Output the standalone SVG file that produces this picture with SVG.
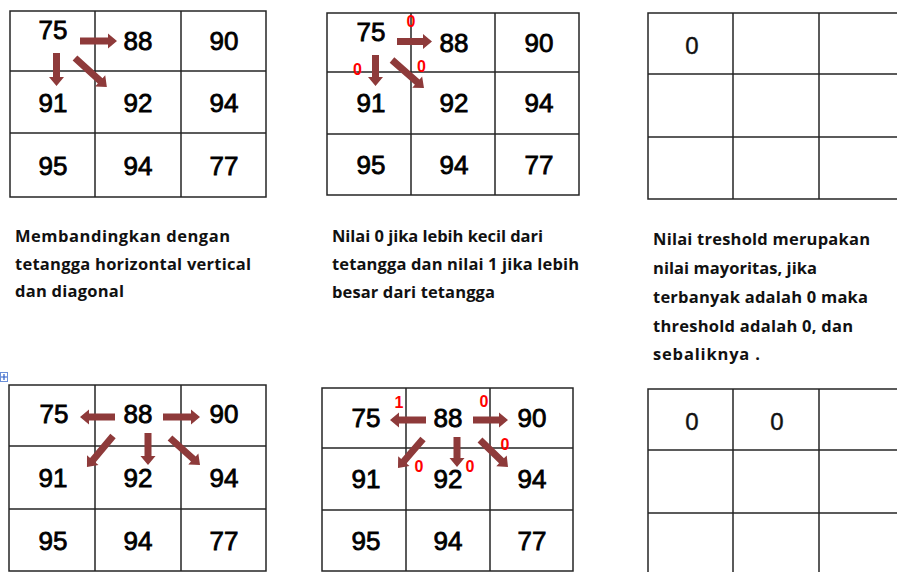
<svg xmlns="http://www.w3.org/2000/svg" width="897" height="572" viewBox="0 0 897 572">
<style>
.g{fill:none;stroke:#262626;stroke-width:1.5}
.n{font-family:"Liberation Sans",Arial,sans-serif;font-size:26px;fill:#000;text-anchor:middle;stroke:#000;stroke-width:0.8}
.z{font-family:"Liberation Sans",Arial,sans-serif;font-size:24px;fill:#111;text-anchor:middle;stroke:#111;stroke-width:0.4}
.r{font-family:"Liberation Sans",Arial,sans-serif;font-size:16px;font-weight:bold;fill:#ff0000;text-anchor:middle}
.t{font-family:"Open Sans","Liberation Sans",sans-serif;font-size:16.5px;font-weight:bold;fill:#111}
.a{fill:#8E3A3A}
</style>
<rect width="897" height="572" fill="#fff"/>

<g id="grid-top-left">
<path class="g" d="M10,11H266V197H10Z M95,11V197 M181,11V197 M10,71H266 M10,133H266"/>
<text class="n" x="53" y="39">75</text><text class="n" x="138" y="50">88</text><text class="n" x="224" y="50">90</text>
<text class="n" x="53" y="112">91</text><text class="n" x="138" y="112">92</text><text class="n" x="224" y="112">94</text>
<text class="n" x="53" y="175">95</text><text class="n" x="138" y="175">94</text><text class="n" x="224" y="175">77</text>
</g>

<g id="grid-top-middle">
<path class="g" d="M327,13H579V195H327Z M411,13V195 M495,13V195 M327,72H579 M327,134H579"/>
<text class="n" x="371" y="41">75</text><text class="n" x="454" y="52">88</text><text class="n" x="539" y="52">90</text>
<text class="n" x="371" y="112">91</text><text class="n" x="454" y="112">92</text><text class="n" x="539" y="112">94</text>
<text class="n" x="371" y="174">95</text><text class="n" x="454" y="174">94</text><text class="n" x="539" y="174">77</text>
<text class="r" x="411" y="27">0</text><text class="r" x="357.5" y="75">0</text><text class="r" x="421.5" y="72">0</text>
</g>

<g id="grid-top-right">
<path class="g" d="M905,13H648V199H905 M733,13V199 M819,13V199 M648,74H905 M648,137H905"/>
<text class="z" x="692" y="54">0</text>
</g>

<g id="grid-bottom-left">
<path class="g" d="M9,385H266V571H9Z M95,385V571 M181,385V571 M9,446H266 M9,509H266"/>
<text class="n" x="54" y="423">75</text><text class="n" x="138" y="423">88</text><text class="n" x="224" y="423">90</text>
<text class="n" x="53" y="487">91</text><text class="n" x="138" y="487">92</text><text class="n" x="224" y="487">94</text>
<text class="n" x="53" y="550">95</text><text class="n" x="138" y="550">94</text><text class="n" x="224" y="550">77</text>
</g>

<g id="move-handle">
<rect x="0.5" y="372.5" width="7" height="9" fill="#fff" stroke="#6b8fd8" stroke-width="1"/>
<path d="M1,377H7 M4,374V380" stroke="#2d5fc8" stroke-width="1.2"/>
</g>

<g id="grid-bottom-middle">
<path class="g" d="M322,388H573V571H322Z M406,388V571 M490,388V571 M322,448H573 M322,510H573"/>
<text class="n" x="366" y="427">75</text><text class="n" x="448" y="427">88</text><text class="n" x="532" y="427">90</text>
<text class="n" x="366" y="488">91</text><text class="n" x="448" y="488">92</text><text class="n" x="532" y="488">94</text>
<text class="n" x="366" y="550">95</text><text class="n" x="448" y="550">94</text><text class="n" x="532" y="550">77</text>
<text class="r" x="399" y="408">1</text><text class="r" x="484" y="407">0</text><text class="r" x="505" y="450">0</text>
<text class="r" x="419" y="472">0</text><text class="r" x="470" y="472">0</text>
</g>

<g id="grid-bottom-right">
<path class="g" d="M905,389H648V580 M733,389V580 M819,389V580 M648,450H905 M648,513H905"/>
<text class="z" x="692" y="430">0</text><text class="z" x="777" y="430">0</text>
</g>

<g id="connectors">
<path class="a" transform="translate(80,41)" d="M0,-3.5H28V-7.5L37,0L28,7.5V3.5H0Z"/>
<path class="a" transform="translate(56.5,53) rotate(90)" d="M0,-3.5H24V-7.5L33,0L24,7.5V3.5H0Z"/>
<path class="a" transform="translate(75,58) rotate(42.2)" d="M0,-3.5H34V-7.5L43,0L34,7.5V3.5H0Z"/>

<path class="a" transform="translate(397,41.5)" d="M0,-3.5H26V-7.5L35,0L26,7.5V3.5H0Z"/>
<path class="a" transform="translate(375.5,55) rotate(90)" d="M0,-3.5H22V-7.5L31,0L22,7.5V3.5H0Z"/>
<path class="a" transform="translate(392,60) rotate(41.2)" d="M0,-3.5H33.5V-7.5L42.5,0L33.5,7.5V3.5H0Z"/>

<path class="a" transform="translate(115,417) rotate(180)" d="M0,-3.5H26V-7.5L35,0L26,7.5V3.5H0Z"/>
<path class="a" transform="translate(163,417)" d="M0,-3.5H28V-7.5L37,0L28,7.5V3.5H0Z"/>
<path class="a" transform="translate(148,433) rotate(90)" d="M0,-3.5H23V-7.5L32,0L23,7.5V3.5H0Z"/>
<path class="a" transform="translate(113,436) rotate(130)" d="M0,-3.5H31.5V-7.5L40.5,0L31.5,7.5V3.5H0Z"/>
<path class="a" transform="translate(170,438) rotate(42)" d="M0,-3.5H31.4V-7.5L40.4,0L31.4,7.5V3.5H0Z"/>

<path class="a" transform="translate(426,420) rotate(180)" d="M0,-3.5H27V-7.5L36,0L27,7.5V3.5H0Z"/>
<path class="a" transform="translate(473,420)" d="M0,-3.5H26V-7.5L35,0L26,7.5V3.5H0Z"/>
<path class="a" transform="translate(457,437) rotate(90)" d="M0,-3.5H21V-7.5L30,0L21,7.5V3.5H0Z"/>
<path class="a" transform="translate(423,439) rotate(130.8)" d="M0,-3.5H29.3V-7.5L38.3,0L29.3,7.5V3.5H0Z"/>
<path class="a" transform="translate(480,440) rotate(44)" d="M0,-3.5H29.9V-7.5L38.9,0L29.9,7.5V3.5H0Z"/>
</g>

<g id="text-left">
<text class="t" x="15" y="242" textLength="215" lengthAdjust="spacing">Membandingkan dengan</text>
<text class="t" x="15" y="270" textLength="236" lengthAdjust="spacing">tetangga horizontal vertical</text>
<text class="t" x="15" y="297" textLength="109" lengthAdjust="spacing">dan diagonal</text>
</g>

<g id="text-middle">
<text class="t" x="332" y="242" textLength="211" lengthAdjust="spacing">Nilai 0 jika lebih kecil dari</text>
<text class="t" x="332" y="270" textLength="247" lengthAdjust="spacing">tetangga dan nilai 1 jika lebih</text>
<text class="t" x="332" y="298" textLength="163" lengthAdjust="spacing">besar dari tetangga</text>
</g>

<g id="text-right">
<text class="t" x="653" y="245" textLength="217" lengthAdjust="spacing">Nilai treshold merupakan</text>
<text class="t" x="653" y="274" textLength="164" lengthAdjust="spacing">nilai mayoritas, jika</text>
<text class="t" x="653" y="303" textLength="215" lengthAdjust="spacing">terbanyak adalah 0 maka</text>
<text class="t" x="653" y="332" textLength="200" lengthAdjust="spacing">threshold adalah 0, dan</text>
<text class="t" x="653" y="360" textLength="107" lengthAdjust="spacing">sebaliknya .</text>
</g>
</svg>
